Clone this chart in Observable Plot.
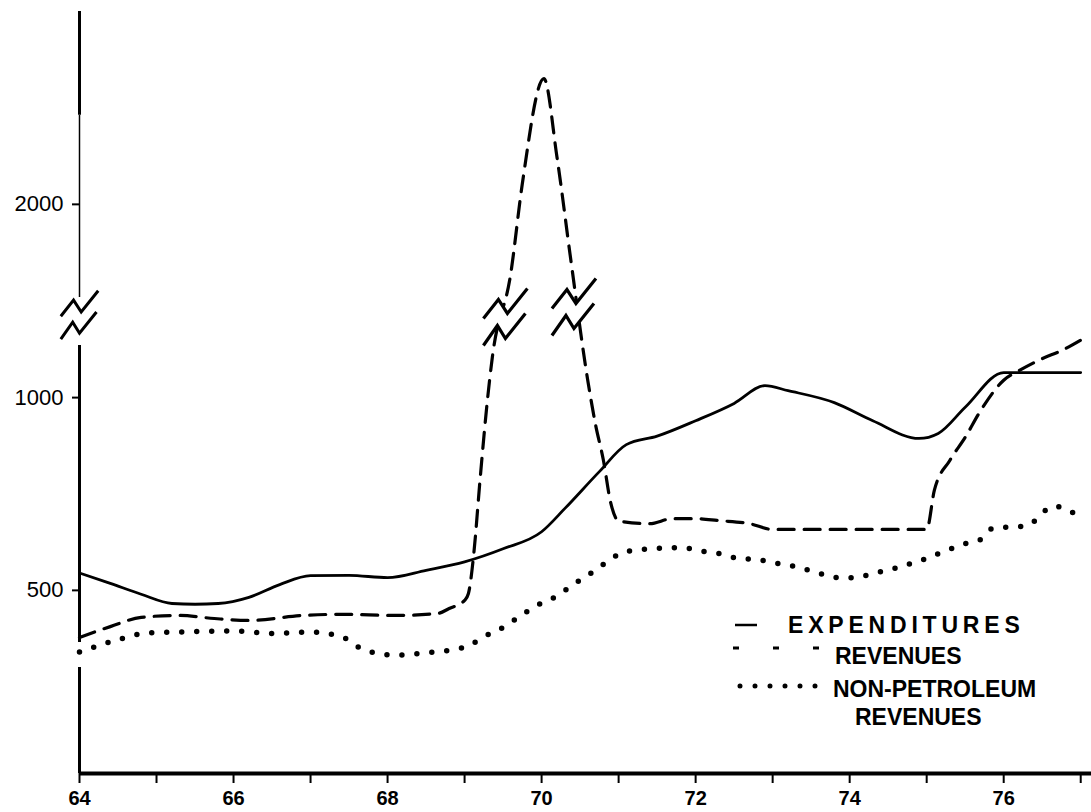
<!DOCTYPE html>
<html><head><meta charset="utf-8">
<script src="https://cdn.jsdelivr.net/npm/d3@7"></script>
<script src="https://cdn.jsdelivr.net/npm/@observablehq/plot@0.6"></script>
<style>
body{margin:0;background:#fff;}
#wrap{position:relative;width:1091px;height:812px;font-family:"Liberation Sans",Arial,sans-serif;}
#wrap svg{position:absolute;left:0;top:0;}
</style></head><body><div id="wrap"></div>
<script>
// ---- data ----
const expYears  = [64.0, 64.4, 64.8, 65.2, 65.5, 65.8, 66.2, 66.6, 67.0, 67.5, 68.0, 68.5, 69.0, 69.5, 70.0, 70.3, 70.75, 71.1, 71.5, 72.0, 72.5, 72.9, 73.2, 73.8, 74.3, 74.9, 75.15, 75.5, 76.0, 77.0];
const expValues = [545, 518, 490, 466, 464, 466, 482, 515, 538, 539, 533, 552, 574, 608, 652, 712, 808, 878, 900, 940, 985, 1031, 1018, 987, 940, 894, 907, 975, 1065, 1065];

const revYears  = [64.0, 64.4, 64.8, 65.3, 65.75, 66.2, 66.9, 67.4, 68.1, 68.65, 68.8, 69.0, 69.05, 69.12, 69.2, 69.3, 69.36, 69.6, 69.75, 70.03, 70.2, 70.38, 70.6, 70.7, 70.8, 70.9, 71.0, 71.4, 71.7, 72.0, 72.3, 72.7, 73.0, 75.0, 75.1, 75.3, 75.5, 75.7, 76.0, 76.2, 76.5, 76.75, 77.05];
const revValues = [378, 406, 430, 435, 427, 422, 435, 438, 435, 440, 453, 474, 492, 596, 785, 1000, 1104, 1821, 2054, 2326, 2122, 1855, 1044, 930, 840, 725, 680, 673, 686, 686, 681, 673, 658, 658, 760, 837, 897, 966, 1045, 1070, 1101, 1122, 1155];

const nprYears  = [64.0, 64.5, 64.9, 65.3, 66.0, 66.5, 67.0, 67.4, 67.7, 68.1, 68.5, 68.85, 69.05, 69.25, 69.45, 69.7, 69.95, 70.15, 70.45, 70.65, 70.85, 71.05, 71.25, 71.5, 71.8, 72.1, 72.3, 72.55, 72.8, 73.0, 73.35, 73.6, 73.9, 74.15, 74.35, 74.6, 74.8, 75.0, 75.25, 75.5, 75.7, 75.85, 76.3, 76.65, 77.0];
const nprValues = [340, 372, 390, 392, 395, 388, 392, 380, 345, 332, 338, 346, 356, 380, 398, 430, 462, 480, 520, 546, 574, 598, 605, 609, 611, 601, 596, 583, 580, 572, 559, 544, 532, 536, 546, 558, 570, 583, 603, 621, 632, 660, 668, 718, 690];

const xTicks = [64, 65, 66, 67, 68, 69, 70, 71, 72, 73, 74, 75, 76, 77];
const yTicks = [500, 1000, 2000];
const yBase = 25;                       // value at the x-axis line
const yDomain = [yBase, 1200, 1800, 2500]; // broken scale: 1200–1800 squeezed
const lineBreakYears = [69.53, 70.42];
const lineBreakValues = [1262, 1415];
const axisBreakValue = [1292];
const axisThickFrom = [yBase, 365, 2231];
const axisThickTo   = [300, 1135, 2500];
const axisThinFrom = [1554];
const axisThinTo   = [2231];
const legendLabels = ["EXPENDITURES", "REVENUES", "NON-PETROLEUM", "REVENUES"];

// ---- tables ----
const tab = (xs, ys) => xs.map((x, i) => ({year: x, value: ys[i]}));
const expTable = tab(expYears, expValues);
const revTable = tab(revYears, revValues);
const nprTable = tab(nprYears, nprValues);
const lineBreaks = tab(lineBreakYears, lineBreakValues);
const axisBreak = axisBreakValue.map(v => ({year: 64, value: v}));
const axisThick = axisThickFrom.map((a, i) => ({from: a, to: axisThickTo[i]}));
const axisThin = axisThinFrom.map((a, i) => ({from: a, to: axisThinTo[i]}));

// zig-zag break symbol
function zigzag(filled) {
  const up = [[-22, 2], [-7, -17], [2, -3], [22, -28]];
  const lo = [[-22, 29], [-8, 9], [0, 22], [20, -3]];
  return {
    draw(ctx, size) {
      const k = Math.sqrt(size / Math.PI) / 10;
      const path = pts => pts.forEach(([x, y], i) => i ? ctx.lineTo(x * k, y * k) : ctx.moveTo(x * k, y * k));
      if (filled) { path(up.concat(lo.slice().reverse())); ctx.closePath(); }
      else { path(up); path(lo); }
    }
  };
}

const chart = Plot.plot({
  width: 1091, height: 812,
  marginLeft: 79, marginRight: 0, marginTop: 11, marginBottom: 39,
  style: {fontFamily: "'Liberation Sans', Arial, sans-serif", color: "black", background: "white", overflow: "visible"},
  x: {domain: [64, 77.14]},
  y: {type: "linear", domain: yDomain, range: [773, 320, 281, 11]},
  marks: [
    Plot.line(expTable, {x: "year", y: "value", stroke: "black", strokeWidth: 2.8, curve: "monotone-x"}),
    Plot.line(revTable, {x: "year", y: "value", stroke: "black", strokeWidth: 3.2, strokeDasharray: "16,10", curve: "monotone-x"}),
    Plot.line(nprTable, {x: "year", y: "value", stroke: "black", strokeWidth: 5.5, strokeDasharray: "0,15", strokeLinecap: "round", curve: "monotone-x"}),
    Plot.ruleX(axisThick, {x: 64, y1: "from", y2: "to", stroke: "black", strokeWidth: 3}),
    Plot.ruleX(axisThin, {x: 64, y1: "from", y2: "to", stroke: "black", strokeWidth: 1.5}),
    Plot.dot(lineBreaks, {x: "year", y: "value", r: 10, symbol: zigzag(true), fill: "white", stroke: "none"}),
    Plot.dot(lineBreaks, {x: "year", y: "value", r: 10, symbol: zigzag(false), fill: "none", stroke: "black", strokeWidth: 3.2}),
    Plot.dot(axisBreak, {x: "year", y: "value", r: 8.5, symbol: zigzag(true), fill: "white", stroke: "none"}),
    Plot.dot(axisBreak, {x: "year", y: "value", r: 8.5, symbol: zigzag(false), fill: "none", stroke: "black", strokeWidth: 3}),
    Plot.ruleY([yBase], {stroke: "black", strokeWidth: 4}),
    Plot.axisX({ticks: xTicks, tickFormat: d => d % 2 === 0 ? String(d) : "", tickSize: 10, tickPadding: 7, fontSize: 20, fontWeight: "bold", strokeWidth: 2, label: null}),
    Plot.axisY({ticks: yTicks, tickFormat: d => String(d), tickSize: 7, tickPadding: 9, fontSize: 22, strokeWidth: 2, label: null})
  ]
});
document.getElementById("wrap").appendChild(chart);

// ---- legend (inside the plot area, lower right) ----
const leg = d3.select("#wrap").append("svg")
  .attr("width", 1091).attr("height", 812)
  .style("pointer-events", "none")
  .style("font-family", "'Liberation Sans', Arial, sans-serif");
leg.append("line").attr("x1", 735).attr("x2", 757).attr("y1", 625).attr("y2", 625)
  .attr("stroke", "black").attr("stroke-width", 2.5);
leg.append("line").attr("x1", 733).attr("x2", 820).attr("y1", 648).attr("y2", 648)
  .attr("stroke", "black").attr("stroke-width", 3).attr("stroke-dasharray", "6,34");
leg.append("line").attr("x1", 740).attr("x2", 818).attr("y1", 686).attr("y2", 686)
  .attr("stroke", "black").attr("stroke-width", 5).attr("stroke-dasharray", "0,15").attr("stroke-linecap", "round");
const legPos = [[788, 633, 4.8], [835, 664, 0], [833, 697, 0], [855, 725, 0]];
legendLabels.forEach((t, i) => {
  leg.append("text").attr("x", legPos[i][0]).attr("y", legPos[i][1])
    .attr("font-size", 23).attr("font-weight", "bold")
    .attr("letter-spacing", legPos[i][2])
    .attr("fill", "black").text(t);
});
</script>
</body></html>
